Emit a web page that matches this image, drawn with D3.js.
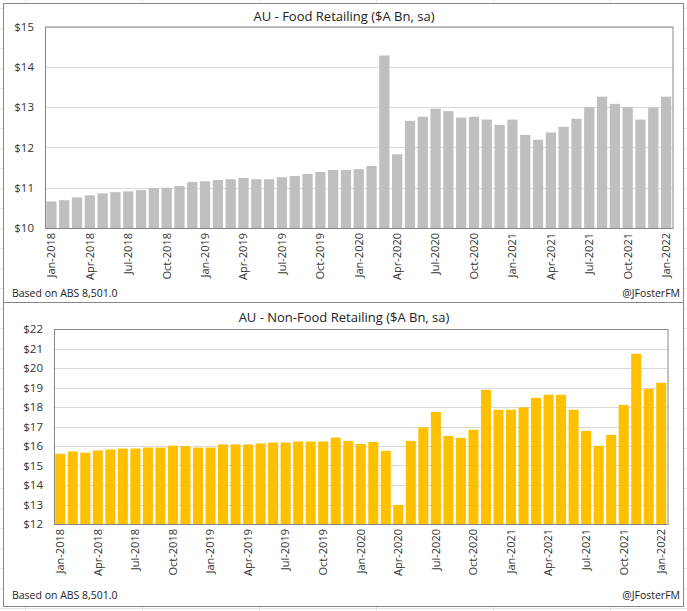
<!DOCTYPE html>
<html>
<head>
<meta charset="utf-8">
<script src="https://cdn.jsdelivr.net/npm/d3@7"></script>
<style>
  body { margin: 0; background: #fff; }
  svg { display: block; font-family: "Open Sans", sans-serif; }
</style>
</head>
<body>
<div id="chart"></div>
<script>
// months Jan-2018 .. Jan-2022
const months = d3.utcMonth.range(new Date(Date.UTC(2018, 0, 1)), new Date(Date.UTC(2022, 1, 1)));
const fmtMonth = d3.utcFormat("%b-%Y");

// food retailing, $A bn
const foodValues = [
  10.66, 10.69, 10.76, 10.81, 10.86, 10.89, 10.91, 10.94, 10.99, 11.00, 11.04, 11.14,
  11.16, 11.19, 11.21, 11.24, 11.21, 11.21, 11.26, 11.29, 11.34, 11.39, 11.44, 11.44,
  11.46, 11.54, 14.28, 11.83, 12.66, 12.76, 12.96, 12.90, 12.74, 12.76, 12.69, 12.56,
  12.69, 12.31, 12.19, 12.37, 12.51, 12.71, 13.00, 13.26, 13.08, 13.00, 12.69, 12.99,
  13.26
];

// non-food retailing, $A bn
const nonFoodValues = [
  15.60, 15.72, 15.66, 15.77, 15.82, 15.87, 15.87, 15.92, 15.92, 16.02, 15.99, 15.92,
  15.92, 16.08, 16.08, 16.08, 16.13, 16.18, 16.18, 16.23, 16.23, 16.23, 16.43, 16.26,
  16.11, 16.21, 15.75, 12.98, 16.26, 16.95, 17.75, 16.52, 16.42, 16.83, 18.88, 17.86,
  17.86, 17.98, 18.47, 18.63, 18.63, 17.86, 16.78, 16.01, 16.57, 18.11, 20.73, 18.93,
  19.24
];

const W = 687, H = 611;
const svg = d3.select("#chart").append("svg")
  .attr("width", W).attr("height", H);

// faint spreadsheet cells behind the charts
const bg = svg.append("g").attr("stroke", "#e3e3e3").attr("stroke-width", 1);
d3.range(25, W, 117).forEach(x => bg.append("line").attr("x1", x + 0.5).attr("x2", x + 0.5).attr("y1", 0).attr("y2", H));
d3.range(8, H, 20).forEach(y => bg.append("line").attr("x1", 0).attr("x2", W).attr("y1", y + 0.5).attr("y2", y + 0.5));

function drawPanel(p) {
  const g = svg.append("g");

  g.append("rect")
    .attr("x", p.box[0] + 0.5).attr("y", p.box[1] + 0.5)
    .attr("width", p.box[2]).attr("height", p.box[3])
    .attr("fill", "#fff").attr("stroke", "#868686");

  const x = d3.scaleBand()
    .domain(months.map(fmtMonth))
    .range([p.left, p.right])
    .paddingInner(0.2).paddingOuter(0.1);

  const y = d3.scaleLinear()
    .domain(p.domain)
    .range([p.bottom, p.top]);

  // gridlines
  g.append("g").selectAll("line")
    .data(y.ticks(p.domain[1] - p.domain[0]))
    .enter().append("line")
    .attr("x1", p.left).attr("x2", p.right)
    .attr("y1", d => Math.round(y(d)) + 0.5)
    .attr("y2", d => Math.round(y(d)) + 0.5)
    .attr("stroke", "#d9d9d9");

  // bars
  g.append("g").selectAll("rect")
    .data(p.values)
    .enter().append("rect")
    .attr("x", (d, i) => x(fmtMonth(months[i])))
    .attr("width", x.bandwidth())
    .attr("y", d => y(d))
    .attr("height", d => y(p.domain[0]) - y(d))
    .attr("fill", p.color);

  // plot area border
  g.append("rect")
    .attr("x", p.left + 0.5).attr("y", p.top + 0.5)
    .attr("width", p.right - p.left).attr("height", p.bottom - p.top)
    .attr("fill", "none").attr("stroke", "#868686");

  // y axis
  const yAxis = g.append("g")
    .attr("transform", "translate(" + p.left + ",0)")
    .call(d3.axisLeft(y).ticks(p.domain[1] - p.domain[0]).tickFormat(d => "$" + d).tickSize(0).tickPadding(11));
  yAxis.select(".domain").remove();
  yAxis.selectAll("text").attr("font-size", 11.5).attr("fill", "#333").attr("font-family", "Open Sans");

  // x axis, every 3rd month
  const xAxis = g.append("g")
    .attr("transform", "translate(0," + p.bottom + ")")
    .call(d3.axisBottom(x).tickValues(months.filter((m, i) => i % 3 === 0).map(fmtMonth)).tickSize(0));
  xAxis.select(".domain").remove();
  xAxis.selectAll("text")
    .attr("y", 0).attr("x", -5).attr("dy", "0.35em")
    .attr("transform", "rotate(-90)")
    .style("text-anchor", "end")
    .attr("font-size", 11).attr("fill", "#333").attr("font-family", "Open Sans");

  g.append("text")
    .attr("x", (p.box[0] + p.box[0] + p.box[2]) / 2 + 1)
    .attr("y", p.titleY)
    .attr("text-anchor", "middle")
    .attr("font-size", 13).attr("fill", "#222")
    .text(p.title);

  g.append("text")
    .attr("x", p.box[0] + 9).attr("y", p.footY)
    .attr("font-size", 10.5).attr("fill", "#222")
    .text("Based on ABS 8,501.0");

  g.append("text")
    .attr("x", p.box[0] + p.box[2] - 3).attr("y", p.footY)
    .attr("text-anchor", "end")
    .attr("font-size", 10.5).attr("fill", "#222")
    .text("@JFosterFM");
}

drawPanel({
  box: [3, 3, 680, 299],
  left: 45, right: 672.5, top: 26.5, bottom: 228,
  domain: [10, 15],
  values: foodValues,
  color: "#bfbfbf",
  title: "AU - Food Retailing ($A Bn, sa)",
  titleY: 21,
  footY: 297
});

drawPanel({
  box: [3, 302, 680, 304],
  left: 54, right: 667.5, top: 329, bottom: 524,
  domain: [12, 22],
  values: nonFoodValues,
  color: "#ffc000",
  title: "AU - Non-Food Retailing ($A Bn, sa)",
  titleY: 322,
  footY: 599
});
</script>
</body>
</html>
